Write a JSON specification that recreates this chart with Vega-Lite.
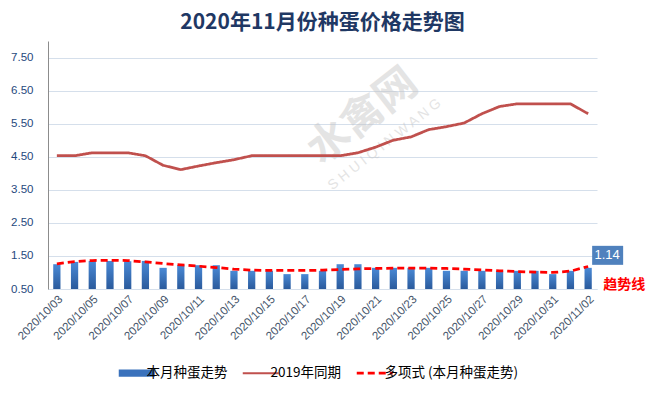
{
  "$schema": "https://vega.github.io/schema/vega-lite/v6.json",
  "width": 549,
  "height": 248,
  "autosize": {"type": "none"},
  "padding": {"left": 48, "top": 41, "right": 49, "bottom": 104},
  "background": "#ffffff",
  "title": {"text": "2020年11月份种蛋价格走势图", "fontSize": 21, "fontWeight": "bold", "color": "#1F3864", "font": "Noto Sans CJK SC", "offset": 8, "anchor": "middle"},
  "config": {"font": "Noto Sans CJK SC", "view": {"stroke": null}},
  "datasets": {
    "bars": [
      {"d": "2020/10/03", "v": 1.25}, {"d": "2020/10/04", "v": 1.32}, {"d": "2020/10/05", "v": 1.35}, {"d": "2020/10/06", "v": 1.35},
      {"d": "2020/10/07", "v": 1.34}, {"d": "2020/10/08", "v": 1.35}, {"d": "2020/10/09", "v": 1.14}, {"d": "2020/10/10", "v": 1.22},
      {"d": "2020/10/11", "v": 1.22}, {"d": "2020/10/12", "v": 1.22}, {"d": "2020/10/13", "v": 1.05}, {"d": "2020/10/14", "v": 1.05},
      {"d": "2020/10/15", "v": 1.05}, {"d": "2020/10/16", "v": 0.95}, {"d": "2020/10/17", "v": 0.95}, {"d": "2020/10/18", "v": 1.05},
      {"d": "2020/10/19", "v": 1.25}, {"d": "2020/10/20", "v": 1.25}, {"d": "2020/10/21", "v": 1.14}, {"d": "2020/10/22", "v": 1.14},
      {"d": "2020/10/23", "v": 1.14}, {"d": "2020/10/24", "v": 1.14}, {"d": "2020/10/25", "v": 1.05}, {"d": "2020/10/26", "v": 1.05},
      {"d": "2020/10/27", "v": 1.05}, {"d": "2020/10/28", "v": 1.05}, {"d": "2020/10/29", "v": 1.05}, {"d": "2020/10/30", "v": 1.05},
      {"d": "2020/10/31", "v": 0.95}, {"d": "2020/11/01", "v": 1.05}, {"d": "2020/11/02", "v": 1.14}
    ],
    "lines": [
      {"d": "2020/10/03", "s": "2019年同期", "v": 4.53}, {"d": "2020/10/04", "s": "2019年同期", "v": 4.53},
      {"d": "2020/10/05", "s": "2019年同期", "v": 4.62}, {"d": "2020/10/06", "s": "2019年同期", "v": 4.62},
      {"d": "2020/10/07", "s": "2019年同期", "v": 4.62}, {"d": "2020/10/08", "s": "2019年同期", "v": 4.53},
      {"d": "2020/10/09", "s": "2019年同期", "v": 4.24}, {"d": "2020/10/10", "s": "2019年同期", "v": 4.11},
      {"d": "2020/10/11", "s": "2019年同期", "v": 4.22}, {"d": "2020/10/12", "s": "2019年同期", "v": 4.32},
      {"d": "2020/10/13", "s": "2019年同期", "v": 4.41}, {"d": "2020/10/14", "s": "2019年同期", "v": 4.53},
      {"d": "2020/10/15", "s": "2019年同期", "v": 4.53}, {"d": "2020/10/16", "s": "2019年同期", "v": 4.53},
      {"d": "2020/10/17", "s": "2019年同期", "v": 4.53}, {"d": "2020/10/18", "s": "2019年同期", "v": 4.53},
      {"d": "2020/10/19", "s": "2019年同期", "v": 4.53}, {"d": "2020/10/20", "s": "2019年同期", "v": 4.62},
      {"d": "2020/10/21", "s": "2019年同期", "v": 4.79}, {"d": "2020/10/22", "s": "2019年同期", "v": 5.0},
      {"d": "2020/10/23", "s": "2019年同期", "v": 5.1}, {"d": "2020/10/24", "s": "2019年同期", "v": 5.32},
      {"d": "2020/10/25", "s": "2019年同期", "v": 5.41}, {"d": "2020/10/26", "s": "2019年同期", "v": 5.52},
      {"d": "2020/10/27", "s": "2019年同期", "v": 5.8}, {"d": "2020/10/28", "s": "2019年同期", "v": 6.02},
      {"d": "2020/10/29", "s": "2019年同期", "v": 6.1}, {"d": "2020/10/30", "s": "2019年同期", "v": 6.1},
      {"d": "2020/10/31", "s": "2019年同期", "v": 6.1}, {"d": "2020/11/01", "s": "2019年同期", "v": 6.1},
      {"d": "2020/11/02", "s": "2019年同期", "v": 5.8},
      {"d": "2020/10/03", "s": "多项式 (本月种蛋走势)", "v": 1.26}, {"d": "2020/10/04", "s": "多项式 (本月种蛋走势)", "v": 1.33},
      {"d": "2020/10/05", "s": "多项式 (本月种蛋走势)", "v": 1.36}, {"d": "2020/10/06", "s": "多项式 (本月种蛋走势)", "v": 1.37},
      {"d": "2020/10/07", "s": "多项式 (本月种蛋走势)", "v": 1.36}, {"d": "2020/10/08", "s": "多项式 (本月种蛋走势)", "v": 1.32},
      {"d": "2020/10/09", "s": "多项式 (本月种蛋走势)", "v": 1.27}, {"d": "2020/10/10", "s": "多项式 (本月种蛋走势)", "v": 1.23},
      {"d": "2020/10/11", "s": "多项式 (本月种蛋走势)", "v": 1.19}, {"d": "2020/10/12", "s": "多项式 (本月种蛋走势)", "v": 1.15},
      {"d": "2020/10/13", "s": "多项式 (本月种蛋走势)", "v": 1.1}, {"d": "2020/10/14", "s": "多项式 (本月种蛋走势)", "v": 1.07},
      {"d": "2020/10/15", "s": "多项式 (本月种蛋走势)", "v": 1.06}, {"d": "2020/10/16", "s": "多项式 (本月种蛋走势)", "v": 1.06},
      {"d": "2020/10/17", "s": "多项式 (本月种蛋走势)", "v": 1.06}, {"d": "2020/10/18", "s": "多项式 (本月种蛋走势)", "v": 1.07},
      {"d": "2020/10/19", "s": "多项式 (本月种蛋走势)", "v": 1.09}, {"d": "2020/10/20", "s": "多项式 (本月种蛋走势)", "v": 1.11},
      {"d": "2020/10/21", "s": "多项式 (本月种蛋走势)", "v": 1.12}, {"d": "2020/10/22", "s": "多项式 (本月种蛋走势)", "v": 1.13},
      {"d": "2020/10/23", "s": "多项式 (本月种蛋走势)", "v": 1.13}, {"d": "2020/10/24", "s": "多项式 (本月种蛋走势)", "v": 1.13},
      {"d": "2020/10/25", "s": "多项式 (本月种蛋走势)", "v": 1.12}, {"d": "2020/10/26", "s": "多项式 (本月种蛋走势)", "v": 1.1},
      {"d": "2020/10/27", "s": "多项式 (本月种蛋走势)", "v": 1.08}, {"d": "2020/10/28", "s": "多项式 (本月种蛋走势)", "v": 1.05},
      {"d": "2020/10/29", "s": "多项式 (本月种蛋走势)", "v": 1.03}, {"d": "2020/10/30", "s": "多项式 (本月种蛋走势)", "v": 1.01},
      {"d": "2020/10/31", "s": "多项式 (本月种蛋走势)", "v": 1.0}, {"d": "2020/11/01", "s": "多项式 (本月种蛋走势)", "v": 1.04},
      {"d": "2020/11/02", "s": "多项式 (本月种蛋走势)", "v": 1.18}
    ]
  },
  "layer": [
    {
      "data": {"name": "bars"},
      "mark": {"type": "bar", "color": {"gradient": "linear", "x1": 0, "y1": 0, "x2": 0, "y2": 1, "stops": [{"offset": 0, "color": "#4A8AD6"}, {"offset": 1, "color": "#2A5A9C"}]}},
      "encoding": {
        "x": {"field": "d", "type": "ordinal", "sort": null,
          "scale": {"domain": ["2020/10/03", "2020/10/04", "2020/10/05", "2020/10/06", "2020/10/07", "2020/10/08", "2020/10/09", "2020/10/10", "2020/10/11", "2020/10/12", "2020/10/13", "2020/10/14", "2020/10/15", "2020/10/16", "2020/10/17", "2020/10/18", "2020/10/19", "2020/10/20", "2020/10/21", "2020/10/22", "2020/10/23", "2020/10/24", "2020/10/25", "2020/10/26", "2020/10/27", "2020/10/28", "2020/10/29", "2020/10/30", "2020/10/31", "2020/11/01", "2020/11/02"], "paddingInner": 0.59, "paddingOuter": 0.295},
          "axis": {"title": null, "values": ["2020/10/03", "2020/10/05", "2020/10/07", "2020/10/09", "2020/10/11", "2020/10/13", "2020/10/15", "2020/10/17", "2020/10/19", "2020/10/21", "2020/10/23", "2020/10/25", "2020/10/27", "2020/10/29", "2020/10/31", "2020/11/02"],
            "labelAngle": -45, "ticks": false, "grid": false, "domainColor": "#D5DFEB", "labelFontSize": 11.5, "labelColor": "#44546A", "labelPadding": 4, "labelFont": "Liberation Sans", "labelOverlap": false}},
        "y": {"field": "v", "type": "quantitative",
          "scale": {"domain": [0.5, 8], "nice": false, "zero": false},
          "axis": {"title": null, "values": [0.5, 1.5, 2.5, 3.5, 4.5, 5.5, 6.5, 7.5], "tickCount": 20, "format": ".2f", "ticks": false, "labelPadding": 15, "labelFontSize": 11.5, "labelColor": "#1F497D", "labelFont": "Liberation Sans", "labelOverlap": false, "domainColor": "#8C8C8C", "gridColor": "#D5DFEB"}},
        "y2": {"datum": 0.5}
      }
    },
    {
      "data": {"name": "bars"},
      "transform": [{"filter": "datum.d === '2020/10/19'"}],
      "mark": {"type": "text", "color": "#C4C4C4", "opacity": 0.45, "fontSize": 42, "font": "Noto Sans CJK SC", "fontWeight": "bold", "angle": -38, "align": "center", "baseline": "middle", "dx": 18, "dy": 14},
      "encoding": {
        "x": {"field": "d", "type": "ordinal", "sort": null},
        "y": {"datum": 5.72},
        "text": {"value": "水禽网"}
      }
    },
    {
      "data": {"name": "bars"},
      "transform": [{"filter": "datum.d === '2020/10/20'"}],
      "mark": {"type": "text", "color": "#C4C4C4", "opacity": 0.45, "fontSize": 14, "font": "Liberation Sans", "angle": -38, "align": "center", "baseline": "middle", "dx": 21, "dy": 16.5},
      "encoding": {
        "x": {"field": "d", "type": "ordinal", "sort": null},
        "y": {"datum": 4.87},
        "text": {"value": "S H U I Q I N W A N G"}
      }
    },
    {
      "data": {"name": "lines"},
      "mark": {"type": "line", "strokeWidth": 2.75},
      "encoding": {
        "x": {"field": "d", "type": "ordinal", "sort": null},
        "y": {"field": "v", "type": "quantitative"},
        "color": {"field": "s", "type": "nominal",
          "scale": {"domain": ["本月种蛋走势", "2019年同期", "多项式 (本月种蛋走势)"], "range": ["#3A72BC", "#C0504D", "#FF0000"]},
          "legend": {"orient": "none", "legendX": 82, "legendY": 325, "direction": "horizontal", "title": null,
            "symbolType": "stroke", "symbolSize": 1296, "symbolStrokeWidth": 2.5, "labelFontSize": 13.5, "labelColor": "#000000", "labelOffset": 3, "columnPadding": 10, "labelFont": "Noto Sans CJK SC",
            "encode": {"symbols": {"update": {
              "shape": {"signal": "datum.value === '本月种蛋走势' ? 'M-1,-0.2H1V0.2H-1Z' : 'stroke'"},
              "fill": {"signal": "datum.value === '本月种蛋走势' ? '#3A72BC' : 'transparent'"},
              "strokeWidth": {"signal": "datum.value === '本月种蛋走势' ? 0 : (datum.value === '2019年同期' ? 2 : 2.75)"},
              "strokeDash": {"signal": "datum.value === '多项式 (本月种蛋走势)' ? [8, 5] : [1, 0]"}
            }}}}},
        "strokeDash": {"field": "s", "type": "nominal",
          "scale": {"domain": ["本月种蛋走势", "2019年同期", "多项式 (本月种蛋走势)"], "range": [[1, 0], [1, 0], [7, 4]]}, "legend": null}
      }
    },
    {
      "data": {"name": "bars"},
      "transform": [{"filter": "datum.d === '2020/11/02'"}],
      "mark": {"type": "point", "shape": "M0.4,-2.2H3.5V-0.3H0.4Z", "size": 400, "filled": true, "color": "#4F81BD", "opacity": 1, "strokeWidth": 0},
      "encoding": {
        "x": {"field": "d", "type": "ordinal", "sort": null},
        "y": {"field": "v", "type": "quantitative"}
      }
    },
    {
      "data": {"name": "bars"},
      "transform": [{"filter": "datum.d === '2020/11/02'"}],
      "mark": {"type": "text", "color": "#FFFFFF", "fontSize": 13, "font": "Liberation Sans", "align": "center", "baseline": "middle", "dx": 19, "dy": -12.5},
      "encoding": {
        "x": {"field": "d", "type": "ordinal", "sort": null},
        "y": {"field": "v", "type": "quantitative"},
        "text": {"field": "v", "type": "quantitative", "format": ".2f"}
      }
    },
    {
      "data": {"name": "bars"},
      "transform": [{"filter": "datum.d === '2020/11/02'"}],
      "mark": {"type": "text", "color": "#FF0000", "fontSize": 14, "font": "Noto Sans CJK SC", "fontWeight": "bold", "align": "left", "baseline": "middle", "dx": 15, "dy": -4},
      "encoding": {
        "x": {"field": "d", "type": "ordinal", "sort": null},
        "y": {"datum": 0.5},
        "text": {"value": "趋势线"}
      }
    }
  ]
}
